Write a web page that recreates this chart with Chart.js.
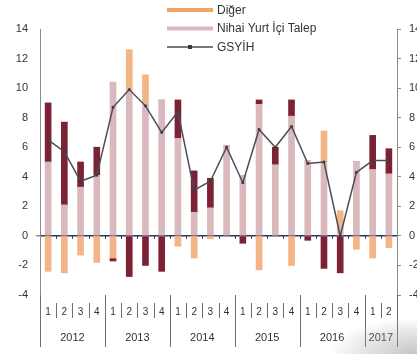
<!DOCTYPE html>
<html>
<head>
<meta charset="utf-8">
<script src="https://cdn.jsdelivr.net/npm/chart.js@4.4.1/dist/chart.umd.min.js"></script>
<style>
  html, body { margin: 0; padding: 0; background: #ffffff; }
  #wrap { position: relative; width: 417px; height: 354px; overflow: hidden; }
  #c { display: block; }
  #shade {
    position: absolute; right: 0; bottom: 0; width: 110px; height: 50px; pointer-events: none;
    background: radial-gradient(ellipse 100% 90% at 100% 100%, rgba(150,150,150,0.55), rgba(170,170,170,0.25) 55%, rgba(255,255,255,0) 80%);
  }
</style>
</head>
<body>
<div id="wrap">
  <canvas id="c" width="417" height="354"></canvas>
  <div id="shade"></div>
</div>
<script>
// Quarterly categories (2012 Q1 – 2017 Q2)
const quarters = ['1','2','3','4','1','2','3','4','1','2','3','4','1','2','3','4','1','2','3','4','1','2'];
const years = ['2012','2013','2014','2015','2016','2017'];
const quartersPerYear = [4, 4, 4, 4, 4, 2];

// Contributions to growth (percentage points) and GDP growth (%)
const nihaiYurtIciTalep = [5.0, 2.1, 3.3, 4.1, 10.4, 9.8, 9.0, 9.2, 6.6, 1.6, 1.9, 6.1, 4.1, 8.9, 4.8, 8.1, 5.1, 5.0, 0.7, 5.0, 4.5, 4.2];
const diger = [-2.4, -2.5, -1.3, -1.8, -1.5, 2.8, 1.9, 0, -0.7, -1.5, -0.2, 0, 0, -2.3, 0, -2.0, 0, 2.1, 1.0, -0.9, -1.5, -0.8];
const netIhracat = [4.0, 5.6, 1.7, 1.9, -0.2, -2.75, -2.0, -2.4, 2.6, 2.8, 2.0, 0, -0.5, 0.3, 1.2, 1.1, -0.3, -2.2, -2.5, 0, 2.3, 1.7];
const gsyih = [6.5, 5.7, 3.7, 4.1, 8.7, 9.9, 8.8, 7.0, 8.4, 3.1, 3.7, 6.0, 3.6, 7.2, 6.0, 7.4, 4.9, 5.0, 0.0, 4.3, 5.1, 5.1];

const FONT = "'Liberation Sans', Arial, sans-serif";
const TEXT = '#333333';
const AXIS = '#8c8c8c';
const ZERO = '#2f3a5c';

const colNihai = '#d9b9bd';
const colDiger = '#f3b486';
const colDigerKey = '#f0a466';
const colNet = '#7b2236';
const colLine = '#4b4d52';

// Category separators, year labels and the stacked key
const decorations = {
  id: 'decorations',
  afterDraw(chart) {
    const ctx = chart.ctx;
    const xs = chart.scales.x;
    const ys = chart.scales.y;
    const area = chart.chartArea;
    const n = quarters.length;
    const bound = i => {
      if (i <= 0) return xs.left;
      if (i >= n) return xs.right;
      return (xs.getPixelForTick(i - 1) + xs.getPixelForTick(i)) / 2;
    };
    const y0 = ys.getPixelForValue(0);
    ctx.save();

    // small marks on the zero line at each category boundary
    ctx.strokeStyle = ZERO;
    ctx.lineWidth = 1;
    for (let i = 1; i < n; i++) {
      const x = Math.round(bound(i)) + 0.5;
      ctx.beginPath(); ctx.moveTo(x, y0); ctx.lineTo(x, y0 + 3); ctx.stroke();
    }

    // group boundaries (years) and quarter separators
    const yearStarts = [];
    let s = 0;
    quartersPerYear.forEach(q => { yearStarts.push(s); s += q; });
    yearStarts.push(n);
    ctx.strokeStyle = '#6f6f6f';
    for (let i = 0; i <= n; i++) {
      const x = Math.round(bound(i)) + 0.5;
      ctx.beginPath();
      if (yearStarts.includes(i)) {
        ctx.moveTo(x, area.bottom); ctx.lineTo(x, area.bottom + 52);
      } else {
        ctx.moveTo(x, area.bottom + 8); ctx.lineTo(x, area.bottom + 23);
      }
      ctx.stroke();
    }

    // year labels
    ctx.fillStyle = TEXT;
    ctx.font = '11px ' + FONT;
    ctx.textAlign = 'center';
    ctx.textBaseline = 'middle';
    years.forEach((yr, k) => {
      const cx = (bound(yearStarts[k]) + bound(yearStarts[k + 1])) / 2;
      ctx.fillText(yr, cx, area.bottom + 43);
    });

    // key
    const keyItems = [
      { label: chart.data.datasets[1].label, color: colDigerKey, kind: 'bar' },
      { label: chart.data.datasets[0].label, color: colNihai, kind: 'bar' },
      { label: chart.data.datasets[3].label, color: colLine, kind: 'line' }
    ];
    const kx0 = 167, kx1 = 213, ky0 = 10, kdy = 18.5;
    ctx.textAlign = 'left';
    ctx.font = '12px ' + FONT;
    keyItems.forEach((it, k) => {
      const y = ky0 + k * kdy;
      ctx.strokeStyle = it.color;
      if (it.kind === 'bar') {
        ctx.lineWidth = 4;
        ctx.beginPath(); ctx.moveTo(kx0, y); ctx.lineTo(kx1, y); ctx.stroke();
      } else {
        ctx.lineWidth = 1.5;
        ctx.beginPath(); ctx.moveTo(kx0, y); ctx.lineTo(kx1, y); ctx.stroke();
        ctx.fillStyle = '#3a3a3e';
        ctx.fillRect((kx0 + kx1) / 2 - 2, y - 2, 4, 4);
      }
      ctx.fillStyle = TEXT;
      ctx.fillText(it.label, kx1 + 4, y + 0.5);
    });
    ctx.restore();
  }
};

const yTicks = {
  min: -4, max: 14,
  ticks: { stepSize: 2, color: TEXT, font: { family: FONT, size: 11 }, padding: 8 },
  border: { display: true, color: AXIS, width: 1 }
};

new Chart(document.getElementById('c'), {
  type: 'bar',
  data: {
    labels: quarters,
    datasets: [
      { label: 'Nihai Yurt İçi Talep', data: nihaiYurtIciTalep, backgroundColor: colNihai, barThickness: 6, stack: 's', order: 1 },
      { label: 'Diğer', data: diger, backgroundColor: colDiger, barThickness: 6, stack: 's', order: 1 },
      { label: 'Net İhracat', data: netIhracat, backgroundColor: colNet, barThickness: 6, stack: 's', order: 1 },
      { type: 'line', label: 'GSYİH', data: gsyih, borderColor: colLine, borderWidth: 1.5,
        pointStyle: 'rect', pointRadius: 1.8, pointBackgroundColor: '#3a3a3e', pointBorderWidth: 0,
        tension: 0, order: 0 }
    ]
  },
  options: {
    responsive: false,
    animation: false,
    devicePixelRatio: 1,
    layout: { padding: { top: 29, left: 0, right: 0, bottom: 0 } },
    plugins: { legend: { display: false }, tooltip: { enabled: false } },
    scales: {
      x: {
        stacked: true,
        grid: { display: false },
        border: { display: false },
        ticks: { color: TEXT, font: { family: FONT, size: 10 }, padding: 3, autoSkip: false, maxRotation: 0 },
        afterFit: s => { s.height = 59; }
      },
      y: Object.assign({}, yTicks, {
        position: 'left',
        stacked: true,
        grid: {
          drawOnChartArea: true,
          color: c => (c.tick && c.tick.value === 0) ? ZERO : 'rgba(0,0,0,0)',
          lineWidth: c => (c.tick && c.tick.value === 0) ? 1.5 : 0,
          tickColor: AXIS, tickLength: 4
        },
        afterFit: s => { s.width = 40; }
      }),
      y2: Object.assign({}, yTicks, {
        position: 'right',
        grid: { drawOnChartArea: false, tickColor: AXIS, tickLength: 4 },
        afterFit: s => { s.width = 20; }
      })
    }
  },
  plugins: [decorations]
});
</script>
</body>
</html>
